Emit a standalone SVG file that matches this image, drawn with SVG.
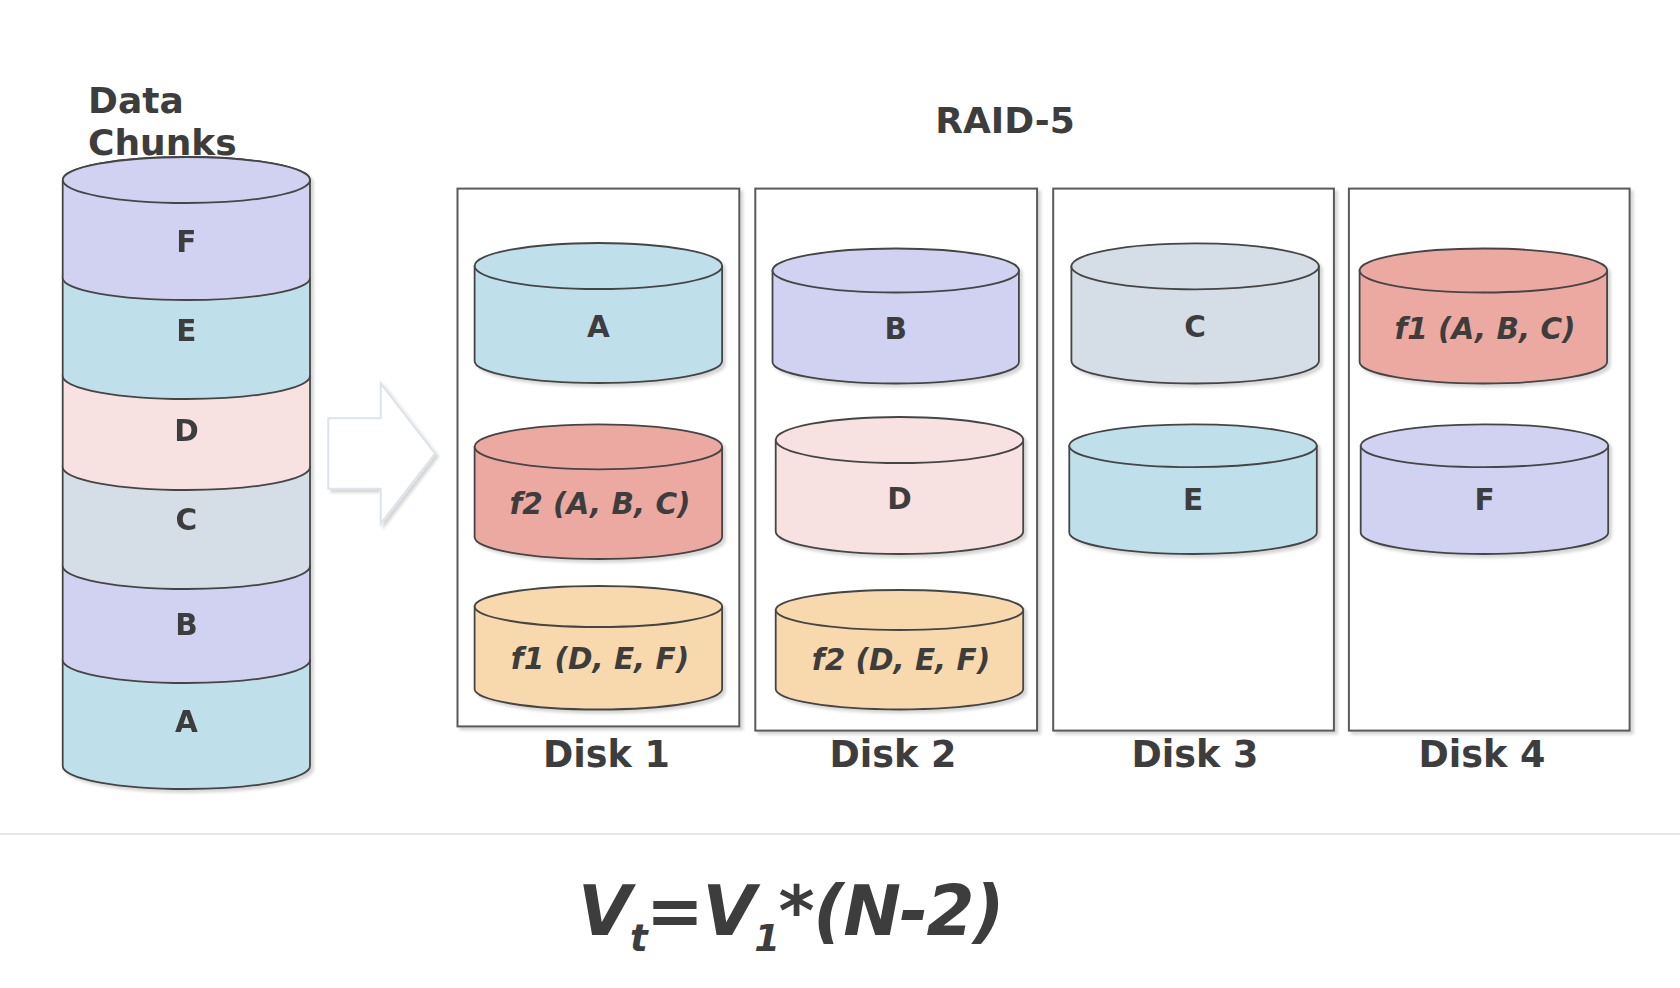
<svg xmlns="http://www.w3.org/2000/svg" width="1680" height="988" viewBox="0 0 1680 988">
<defs>
<filter id="sh" x="-10%" y="-10%" width="130%" height="130%">
<feDropShadow dx="3" dy="3" stdDeviation="1.5" flood-color="#000" flood-opacity="0.16"/>
</filter>
<style>
text{font-family:"DejaVu Sans","Liberation Sans",sans-serif;font-weight:bold;fill:#3d3d3d}
.cyl{stroke:#454545;stroke-width:1.8}
.lbl{font-size:29.5px;text-anchor:middle}
.it{font-style:italic}
.box{fill:#fff;stroke:#5a5a5a;stroke-width:2}
.dl{font-size:36.5px;text-anchor:middle}
.blue{fill:#bfe0eb}.lav{fill:#d1d1f1}.pink{fill:#f8e2e1}.gray{fill:#d5dde6}.red{fill:#eba9a2}.org{fill:#f8d9ae}
</style>
</defs>
<rect width="1680" height="988" fill="#fff"/>

<g id="title-data">
<text x="88" y="113" font-size="36">Data</text>
<text x="88" y="155" font-size="36">Chunks</text>
</g>

<g id="stack" filter="url(#sh)">
<g id="chunk-A"><path class="cyl blue" d="M62.7,660 L62.7,766 A123.6,23 0 0 0 310,766 L310,660 Z"/><text class="lbl" x="186.4" y="732">A</text></g>
<g id="chunk-B"><path class="cyl lav" d="M62.7,566 L62.7,660 A123.6,23 0 0 0 310,660 L310,566 Z"/><text class="lbl" x="186.4" y="635">B</text></g>
<g id="chunk-C"><path class="cyl gray" d="M62.7,467 L62.7,566 A123.6,23 0 0 0 310,566 L310,467 Z"/><text class="lbl" x="186.4" y="530">C</text></g>
<g id="chunk-D"><path class="cyl pink" d="M62.7,376 L62.7,467 A123.6,23 0 0 0 310,467 L310,376 Z"/><text class="lbl" x="186.4" y="441">D</text></g>
<g id="chunk-E"><path class="cyl blue" d="M62.7,278 L62.7,376 A123.6,23 0 0 0 310,376 L310,278 Z"/><text class="lbl" x="186.4" y="341">E</text></g>
<g id="chunk-F"><path class="cyl lav" d="M62.7,180 L62.7,278 A123.6,22 0 0 0 310,278 L310,180 A123.6,23 0 0 0 62.7,180 Z"/><ellipse class="cyl lav" cx="186.4" cy="180" rx="123.6" ry="23"/><text class="lbl" x="186.4" y="252">F</text></g>
</g>

<g id="arrow" filter="url(#sh)">
<polygon points="328.3,418.3 380.7,418.3 380.7,383.3 435,453.5 380.7,523.7 380.7,488.7 328.3,488.7" fill="#fff" stroke="#dde3ea" stroke-width="2"/>
</g>

<g id="title-raid">
<text x="1005" y="133" font-size="36" text-anchor="middle">RAID-5</text>
</g>

<g id="disk1">
<rect class="box" x="457.5" y="188.6" width="281.8" height="537.8" filter="url(#sh)"/>
<g id="d1-A" filter="url(#sh)"><path class="cyl blue" d="M474.6,266 L474.6,361 A123.75,22 0 0 0 722.1,361 L722.1,266 Z"/><ellipse class="cyl blue" cx="598.4" cy="266" rx="123.75" ry="23"/></g>
<text class="lbl" x="598.4" y="337">A</text>
<g id="d1-f2abc" filter="url(#sh)"><path class="cyl red" d="M474.6,446.8 L474.6,537 A123.75,22 0 0 0 722.1,537 L722.1,446.8 Z"/><ellipse class="cyl red" cx="598.4" cy="446.8" rx="123.75" ry="22.5"/></g>
<text class="lbl it" x="600" y="514">f2 (A, B, C)</text>
<g id="d1-f1def" filter="url(#sh)"><path class="cyl org" d="M474.6,606.5 L474.6,689 A123.75,20.5 0 0 0 722.1,689 L722.1,606.5 Z"/><ellipse class="cyl org" cx="598.4" cy="606.5" rx="123.75" ry="20.5"/></g>
<text class="lbl it" x="600" y="669">f1 (D, E, F)</text>
<text class="dl" x="606.4" y="767">Disk 1</text>
</g>

<g id="disk2">
<rect class="box" x="755.3" y="188.6" width="281.8" height="542" filter="url(#sh)"/>
<g id="d2-B" filter="url(#sh)"><path class="cyl lav" d="M772.5,270.5 L772.5,362 A123.2,21.5 0 0 0 1018.9,362 L1018.9,270.5 Z"/><ellipse class="cyl lav" cx="895.7" cy="270.5" rx="123.2" ry="22"/></g>
<text class="lbl" x="895.7" y="339">B</text>
<g id="d2-D" filter="url(#sh)"><path class="cyl pink" d="M775.7,440 L775.7,531.5 A123.75,22.5 0 0 0 1023.2,531.5 L1023.2,440 Z"/><ellipse class="cyl pink" cx="899.5" cy="440" rx="123.75" ry="23"/></g>
<text class="lbl" x="899.5" y="509">D</text>
<g id="d2-f2def" filter="url(#sh)"><path class="cyl org" d="M775.7,610 L775.7,689 A123.75,20.5 0 0 0 1023.2,689 L1023.2,610 Z"/><ellipse class="cyl org" cx="899.5" cy="610" rx="123.75" ry="20"/></g>
<text class="lbl it" x="901" y="670">f2 (D, E, F)</text>
<text class="dl" x="893" y="767">Disk 2</text>
</g>

<g id="disk3">
<rect class="box" x="1053.2" y="188.6" width="280.7" height="542" filter="url(#sh)"/>
<g id="d3-C" filter="url(#sh)"><path class="cyl gray" d="M1071.4,266.3 L1071.4,361 A123.75,22.5 0 0 0 1318.9,361 L1318.9,266.3 Z"/><ellipse class="cyl gray" cx="1195.1" cy="266.3" rx="123.75" ry="23"/></g>
<text class="lbl" x="1195.1" y="337">C</text>
<g id="d3-E" filter="url(#sh)"><path class="cyl blue" d="M1069.3,445.7 L1069.3,532.5 A123.75,21.5 0 0 0 1316.8,532.5 L1316.8,445.7 Z"/><ellipse class="cyl blue" cx="1193" cy="445.7" rx="123.75" ry="21.4"/></g>
<text class="lbl" x="1193" y="510">E</text>
<text class="dl" x="1195" y="767">Disk 3</text>
</g>

<g id="disk4">
<rect class="box" x="1348.9" y="188.6" width="280.7" height="542" filter="url(#sh)"/>
<g id="d4-f1abc" filter="url(#sh)"><path class="cyl red" d="M1359.6,270.5 L1359.6,362 A123.75,21.5 0 0 0 1607.1,362 L1607.1,270.5 Z"/><ellipse class="cyl red" cx="1483.4" cy="270.5" rx="123.75" ry="22"/></g>
<text class="lbl it" x="1485" y="339">f1 (A, B, C)</text>
<g id="d4-F" filter="url(#sh)"><path class="cyl lav" d="M1360.7,445.7 L1360.7,532.5 A123.75,21.5 0 0 0 1608.2,532.5 L1608.2,445.7 Z"/><ellipse class="cyl lav" cx="1484.5" cy="445.7" rx="123.75" ry="21.4"/></g>
<text class="lbl" x="1484.5" y="510">F</text>
<text class="dl" x="1482" y="767">Disk 4</text>
</g>

<g id="separator">
<line x1="0" y1="834" x2="1680" y2="834" stroke="#e3e6ea" stroke-width="2"/>
</g>

<g id="formula">
<text x="578" y="935" font-size="69" font-style="italic" letter-spacing="-1.5">V<tspan font-size="37" dy="16">t</tspan><tspan dy="-16">=V</tspan><tspan font-size="37" dy="16">1</tspan><tspan dy="-16">*(N-2)</tspan></text>
</g>
</svg>
